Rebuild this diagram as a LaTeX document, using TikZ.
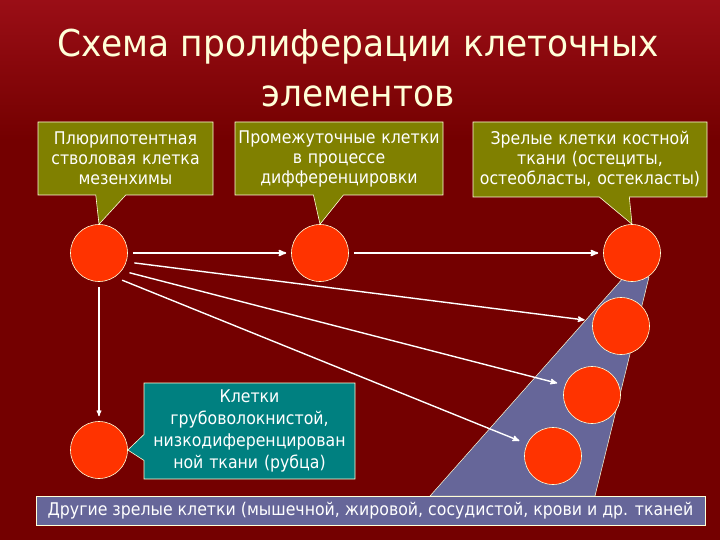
\documentclass[tikz,border=0pt]{standalone}
\usepackage{fontspec}
\setmainfont{DejaVu Sans}[FakeStretch=0.9]
\newfontfamily\titlefont{DejaVu Sans}[FakeStretch=0.93]
\usepackage{tikz}
\usetikzlibrary{arrows}
\usetikzlibrary{shapes.callouts}
\definecolor{bgred}{HTML}{740000}
\definecolor{topred}{HTML}{9A0E16}
\definecolor{olivebox}{HTML}{808000}
\definecolor{tealbox}{HTML}{008080}
\definecolor{slate}{HTML}{666699}
\definecolor{cellred}{HTML}{FF3300}
\definecolor{cream}{HTML}{FFFFD8}
\tikzset{
 cell/.style={circle, fill=cellred, draw=cream, line width=.6pt, minimum size=57pt, inner sep=0},
 note/.style={rectangle callout, fill=olivebox, draw=cream, line width=.6pt, text=white, align=center, inner sep=0, callout pointer width=30pt, font=\fontsize{17.5}{20}\selectfont},
 link/.style={white, line width=1.6pt, ->, >=stealth', shorten <=5pt, shorten >=5pt},
}

\begin{document}
\begin{tikzpicture}[x=1pt,y=-1pt]
\useasboundingbox (0,0) rectangle (720,540);
\fill[bgred] (0,0) rectangle (720,540);
\shade[top color=topred, bottom color=bgred] (0,0) rectangle (720,140);
% title
\node[anchor=base, text=cream, font=\titlefont\fontsize{37}{44}\selectfont] (title1) at (358,57) {Схема пролиферации клеточных};
\node[anchor=base, text=cream, font=\titlefont\fontsize{37}{44}\selectfont] (title2) at (358,107) {элементов};
% fan of mature cells
\fill[slate, draw=cream, line width=.5pt] (624,277) -- (649,277) -- (595,496) -- (430,496) -- cycle;
% cells
\node[cell] (c1) at (99,253) {};
\node[cell] (c2) at (320,253) {};
\node[cell] (c3) at (632,253) {};
\node[cell] (c4) at (621,326) {};
\node[cell] (c5) at (592,395) {};
\node[cell] (c6) at (553,456) {};
\node[cell] (c7) at (99,450) {};
% labels
\node[note, minimum width=175pt, minimum height=73pt, text width=172pt, callout absolute pointer={(c1.north)}] (stem) at (125.5,158.5) {Плюрипотентная\\стволовая клетка\\мезенхимы};
\node[note, minimum width=208pt, minimum height=73pt, text width=205pt, callout absolute pointer={(c2.north)}] (inter) at (339,158.5) {Промежуточные клетки\\в процессе\\дифференцировки};
\node[note, minimum width=234pt, minimum height=75pt, text width=231pt, callout absolute pointer={(c3.north)}] (bone) at (590,159.5) {Зрелые клетки костной\\ткани (остециты,\\остеобласты, остекласты)};
\node[note, fill=tealbox, minimum width=211pt, minimum height=96pt, text width=208pt, callout pointer width=26pt, callout absolute pointer={(c7.east)}, font=\fontsize{17.5}{22}\selectfont] (scar) at (249.5,431) {Клетки\\грубоволокнистой,\\низкодиференцирован\\ной ткани (рубца)};
\node[fill=slate, draw=cream, line width=.6pt, text=white, minimum width=669pt, minimum height=29pt, inner sep=0, font=\fontsize{17.5}{20}\selectfont] (other) at (370.5,510.5) {Другие зрелые клетки (мышечной, жировой, сосудистой, крови и др. тканей};
% arrows
\draw[link] (c1) -- (c2);
\draw[link] (c2) -- (c3);
\draw[link, line width=1.1pt] (c1) -- (c7);
\foreach \a/\b/\t in {-18/c4/170, -38/c5/160, -57/c6/155} {
 \draw[link, line width=1.4pt, shorten <=8pt, shorten >=8pt] (c1.\a) -- (\b.\t);
}
\end{tikzpicture}
\end{document}
